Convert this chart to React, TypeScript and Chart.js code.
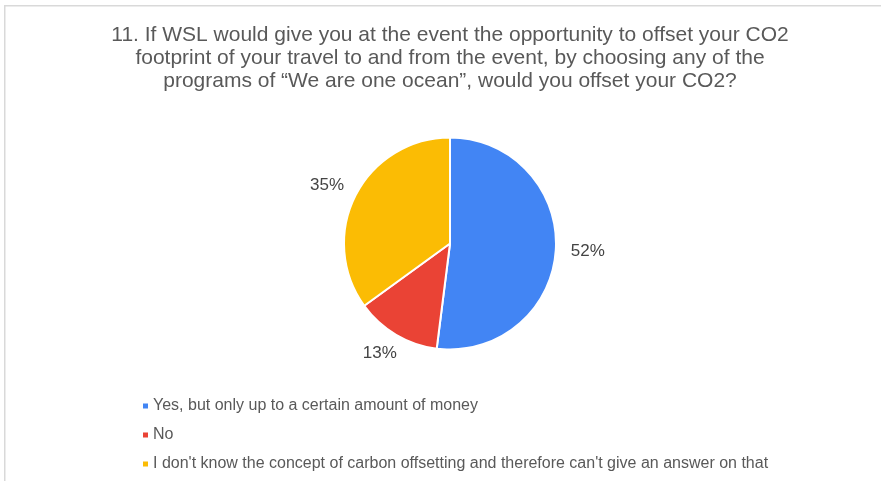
import React, { useEffect, useRef } from "react";
import { Chart, registerables } from "chart.js";

Chart.register(...registerables);

// Survey question shown as the chart heading
const titleLines = [
  "11. If WSL would give you at the event the opportunity to offset your CO2",
  "footprint of your travel to and from the event, by choosing any of the",
  "programs of \u201CWe are one ocean\u201D, would you offset your CO2?",
];

// Answer options and their share of responses (percent)
const answers = [
  "Yes, but only up to a certain amount of money",
  "No",
  "I don't know the concept of carbon offsetting and therefore can't give an answer on that",
];
const shares = [52, 13, 35];
const sliceColors = ["#4285F4", "#EA4335", "#FBBC04"];

const FONT = "'Liberation Sans', Arial, sans-serif";

// White card with a thin grey frame
const framePlugin = {
  id: "frame",
  beforeDraw(chart: any) {
    const { ctx, width, height } = chart;
    ctx.save();
    ctx.fillStyle = "#ffffff";
    ctx.fillRect(0, 0, width, height);
    ctx.strokeStyle = "#d9d9d9";
    ctx.lineWidth = 1.5;
    ctx.strokeRect(4.75, 5.75, width + 20, height + 20);
    ctx.restore();
  },
};

// Three-line centred heading
const headingPlugin = {
  id: "heading",
  afterDraw(chart: any) {
    const { ctx } = chart;
    ctx.save();
    ctx.fillStyle = "#595959";
    ctx.font = `21px ${FONT}`;
    ctx.textAlign = "center";
    ctx.textBaseline = "middle";
    titleLines.forEach((line, i) => ctx.fillText(line, 450, 35 + i * 23));
    ctx.restore();
  },
};

// Percent labels placed outside each slice; the text box sits just
// beyond the rim in the direction of the slice's middle angle
const outsideLabelsPlugin = {
  id: "outsideLabels",
  afterDatasetsDraw(chart: any) {
    const { ctx } = chart;
    const meta = chart.getDatasetMeta(0);
    const data = chart.data.datasets[0].data as number[];
    ctx.save();
    ctx.fillStyle = "#444444";
    ctx.font = `17px ${FONT}`;
    ctx.textAlign = "center";
    ctx.textBaseline = "middle";
    meta.data.forEach((arc: any, i: number) => {
      const { x, y, startAngle, endAngle, outerRadius } = arc.getProps(
        ["x", "y", "startAngle", "endAngle", "outerRadius"],
        true
      );
      const text = `${data[i]}%`;
      const hw = ctx.measureText(text).width / 2;
      const hh = 6.5;
      const mid = (startAngle + endAngle) / 2;
      const cos = Math.cos(mid);
      const sin = Math.sin(mid);
      const r = outerRadius + 15;
      ctx.fillText(text, x + cos * r + cos * hw, y + sin * r + sin * hh);
    });
    ctx.restore();
  },
};

// Vertical legend with small square markers in the lower left
const legendListPlugin = {
  id: "legendList",
  afterDraw(chart: any) {
    const { ctx } = chart;
    const labels = chart.data.labels as string[];
    const colors = chart.data.datasets[0].backgroundColor as string[];
    ctx.save();
    ctx.font = `16px ${FONT}`;
    ctx.textAlign = "left";
    ctx.textBaseline = "middle";
    labels.forEach((label, i) => {
      const cy = 406 + i * 29;
      ctx.fillStyle = colors[i];
      ctx.fillRect(143, cy - 2.5, 5, 5);
      ctx.fillStyle = "#595959";
      ctx.fillText(label, 153, cy);
    });
    ctx.restore();
  },
};

export default function App() {
  const canvasRef = useRef<HTMLCanvasElement | null>(null);

  useEffect(() => {
    if (!canvasRef.current) return;
    const chart = new Chart(canvasRef.current, {
      type: "pie",
      data: {
        labels: answers,
        datasets: [
          {
            data: shares,
            backgroundColor: sliceColors,
            borderColor: "#ffffff",
            borderWidth: 2,
            hoverOffset: 0,
            offset: 0,
          },
        ],
      },
      options: {
        responsive: false,
        animation: false,
        events: [],
        layout: {
          padding: { top: 136, bottom: 130, left: 343, right: 324 },
        },
        plugins: {
          legend: { display: false },
          title: { display: false },
          tooltip: { enabled: false },
        },
      },
      plugins: [framePlugin, headingPlugin, outsideLabelsPlugin, legendListPlugin],
    });
    return () => chart.destroy();
  }, []);

  return (
    <div style={{ position: "fixed", left: 0, top: 0, width: 881, height: 481 }}>
      <canvas ref={canvasRef} width={881} height={481} style={{ display: "block" }} />
    </div>
  );
}
